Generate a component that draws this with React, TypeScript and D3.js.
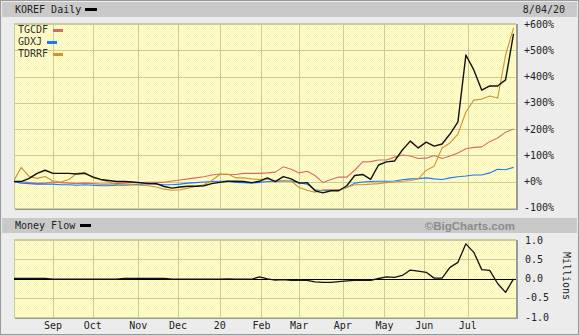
import React, { useEffect } from 'react';
import * as d3 from 'd3';

const W = 579;
const H = 335;
const SAMPLE_STEP = 4; // trading days between samples

const koref = [
  0, 0, 12, 31, 43, 31, 31, 31, 29, 31,
  18, 8, 4, 0, 0, -2, -4, -8, -8, -19,
  -25, -21, -18, -18, -16, -8, -3, 1, 1, 0,
  -4, 1, 14, 0, 19, 10, -6, -4, -35, -43,
  -35, -35, -16, 23, 27, 8, 63, 75, 78, 120,
  154, 128, 150, 135, 143, 181, 227, 482, 425, 348,
  364, 364, 387, 562,
];
const tgcdf = [
  0, 0, -4, -8, -6, -2, -4, -6, -8, -6,
  -8, -10, -10, -8, -6, -4, -4, -3, -3, -3,
  2, 6, 10, 14, 18, 25, 29, 27, 27, 31,
  31, 31, 33, 36, 56, 47, 33, 39, 23, -4,
  8, 17, 17, 43, 75, 76, 82, 82, 93, 101,
  97, 88, 89, 99, 88, 97, 109, 125, 130, 132,
  152, 166, 188, 200,
];
const gdxj = [
  0, -6, -8, -10, -10, -10, -12, -12, -14, -12,
  -14, -16, -16, -14, -14, -12, -10, -8, -10, -12,
  -12, -10, -6, -4, -2, 0, 1, 1, -3, -4,
  -6, -3, 0, 1, 2, 2, -4, -10, -31, -35,
  -32, -32, -23, -6, -2, 0, 1, 1, 2, 7,
  10, 11, 14, 10, 8, 14, 18, 21, 25, 25,
  33, 47, 45, 54,
];
const tdrrf = [
  0, 54, 19, 12, 19, 2, -2, 8, 31, 35,
  14, 8, -2, -12, -12, -12, -14, -16, -21, -29,
  -33, -31, -25, -18, -12, 4, 27, 29, 14, 14,
  10, 8, 10, 2, 4, 2, -23, -33, -41, -31,
  -31, -31, -23, -12, -12, -10, -8, -4, -2, 1,
  4, 10, 43, 58, 128, 147, 181, 265, 310, 314,
  326, 318, 482, 585,
];
const moneyFlow = [
  0, 0, 0, 0, 0, -0.02, -0.02, -0.02, -0.02, -0.02,
  -0.02, -0.02, -0.02, -0.02, 0, 0, 0, 0, 0, 0,
  -0.02, -0.02, -0.02, -0.02, -0.02, -0.02, -0.02, -0.01, -0.02, -0.02,
  -0.02, 0.04, -0.01, -0.04, -0.03, -0.05, -0.05, -0.05, -0.09, -0.1,
  -0.1, -0.08, -0.06, -0.05, -0.04, -0.05, 0, 0.04, 0.03, 0.08,
  0.22, 0.19, 0.16, 0.01, 0.01, 0.29, 0.42, 0.9, 0.68, 0.23,
  0.21, -0.13, -0.36, -0.01,
];

const monthLabels = ['Sep', 'Oct', 'Nov', 'Dec', '20', 'Feb', 'Mar', 'Apr', 'May', 'Jun', 'Jul'];
const monthIdx = [20, 40, 63, 83, 104, 125, 144, 166, 187, 207, 229];
const mainTicks = [600, 500, 400, 300, 200, 100, 0, -100];
const mfTicks = [1, 0.5, 0, -0.5, -1];

const compNames = ['TGCDF', 'GDXJ', 'TDRRF'];
const compColors = ['#d46a6a', '#1a78ff', '#cc9433'];

const MONO = '"DejaVu Sans Mono", "Liberation Mono", monospace';
const GRID = '#cccc99';
const TEXT = '#222';

export default function App() {
  useEffect(() => {
    document.body.style.margin = '0';
  }, []);

  const pL = 14, pR = 516;
  const mainTop = 23, mainBot = 208;
  const mfTop = 239, mfBot = 317;

  const x = d3.scaleLinear().domain([0, 253]).range([13.3, 13.3 + 1.985 * 253]);
  const yMain = d3.scaleLinear().domain([-100, 600]).range([207.8, 24]);
  const yMf = d3.scaleLinear().domain([-1, 1]).range([317, 240]);

  const lineMain = d3.line<number>().x((_, i) => x(i * SAMPLE_STEP)).y((d) => yMain(d));
  const lineMf = d3.line<number>().x((_, i) => x(i * SAMPLE_STEP)).y((d) => yMf(d));

  const compSeries = [tgcdf, gdxj, tdrrf];

  const fmtPct = (v: number) => (v >= 0 ? `+${v}%` : `${v}%`);

  const vGrid = (top: number, bot: number, key: string) =>
    monthIdx.map((m, i) => (
      <line key={key + i} x1={Math.round(x(m)) + 0.5} x2={Math.round(x(m)) + 0.5} y1={top} y2={bot} stroke={GRID} strokeWidth={1} />
    ));

  return (
    <svg width={W} height={H} style={{ position: 'absolute', left: 0, top: 0, display: 'block' }} shapeRendering="auto">
      <defs>
        <pattern id="dith" width="2" height="2" patternUnits="userSpaceOnUse">
          <rect width="2" height="2" fill="#ffffd6" />
          <rect x="0" y="0" width="1" height="1" fill="#faf6b2" />
          <rect x="1" y="1" width="1" height="1" fill="#faf6b2" />
        </pattern>
        <clipPath id="clipMain">
          <rect x={pL} y={mainTop} width={pR - pL} height={mainBot - mainTop} />
        </clipPath>
        <clipPath id="clipMf">
          <rect x={pL} y={mfTop} width={pR - pL} height={mfBot - mfTop} />
        </clipPath>
      </defs>

      {/* background and frame */}
      <rect x={0} y={0} width={W} height={H} fill="#ececec" />
      <rect x={0.5} y={0.5} width={W - 1} height={H - 1} fill="none" stroke="#9a9a9a" />

      {/* header bar */}
      <rect x={2} y={2} width={W - 4} height={15} fill="#c9c9c9" />
      <text x={15} y={13} fontFamily={MONO} fontSize={10} fill={TEXT}>KOREF Daily</text>
      <rect x={85} y={8} width={12} height={3} fill="#000" />
      <text x={565} y={13} fontFamily={MONO} fontSize={10} fill={TEXT} textAnchor="end">8/04/20</text>

      {/* main plot */}
      <rect x={pR} y={mainTop + 1} width={2} height={mainBot - mainTop + 1} fill="#9a9a9a" />
      <rect x={pL + 1} y={mainBot} width={pR - pL + 1} height={2} fill="#9a9a9a" />
      <rect x={pL} y={mainTop} width={pR - pL} height={mainBot - mainTop} fill="url(#dith)" />
      {mainTicks.map((t) => (
        <line key={'hg' + t} x1={pL} x2={pR} y1={Math.round(yMain(t)) + 0.5} y2={Math.round(yMain(t)) + 0.5} stroke={GRID} />
      ))}
      {vGrid(mainTop, mainBot, 'vm')}
      <line x1={pL + 0.5} x2={pL + 0.5} y1={mainTop} y2={mainBot} stroke={GRID} />
      <line x1={pL} x2={pR} y1={mainTop + 0.5} y2={mainTop + 0.5} stroke={GRID} />

      <g clipPath="url(#clipMain)" fill="none" strokeLinejoin="round">
        {compSeries.map((s, i) => (
          <path key={'c' + i} d={lineMain(s) || ''} stroke={compColors[i]} strokeWidth={1.1} />
        ))}
        <path d={lineMain(koref) || ''} stroke="#111" strokeWidth={1.4} />
      </g>

      {/* legend */}
      {compNames.map((n, i) => (
        <g key={'lg' + n}>
          <text x={18} y={33 + i * 12} fontFamily={MONO} fontSize={10} fill="#333">{n}</text>
          <rect x={18 + n.length * 6 + 5} y={29 + i * 12} width={10} height={3} fill={compColors[i]} />
        </g>
      ))}

      {/* main axis labels */}
      {mainTicks.map((t) => (
        <text key={'ml' + t} x={524} y={yMain(t)} dy="0.35em" fontFamily={MONO} fontSize={10} fill={TEXT}>{fmtPct(t)}</text>
      ))}

      {/* money flow header */}
      <rect x={2} y={218} width={W - 4} height={15} fill="#c9c9c9" />
      <text x={15} y={229} fontFamily={MONO} fontSize={10} fill={TEXT}>Money Flow</text>
      <rect x={80} y={224} width={11} height={3} fill="#000" />
      <text x={515} y={229.5} fontFamily='"Liberation Sans", Arial, sans-serif' fontWeight="bold" fontSize={11.5} fill="#8c8c8c" textAnchor="end">©BigCharts.com</text>

      {/* money flow plot */}
      <rect x={pR} y={mfTop + 1} width={2} height={mfBot - mfTop + 1} fill="#9a9a9a" />
      <rect x={pL + 1} y={mfBot} width={pR - pL + 1} height={2} fill="#9a9a9a" />
      <rect x={pL} y={mfTop} width={pR - pL} height={mfBot - mfTop} fill="url(#dith)" />
      {mfTicks.filter((t) => t !== 0).map((t) => (
        <line key={'mg' + t} x1={pL} x2={pR} y1={Math.round(yMf(t)) + 0.5} y2={Math.round(yMf(t)) + 0.5} stroke={GRID} />
      ))}
      {vGrid(mfTop, mfBot, 'vf')}
      <line x1={pL + 0.5} x2={pL + 0.5} y1={mfTop} y2={mfBot} stroke={GRID} />
      <line x1={pL} x2={pR} y1={mfTop + 0.5} y2={mfTop + 0.5} stroke={GRID} />
      <line x1={pL} x2={pR} y1={Math.round(yMf(0)) + 0.5} y2={Math.round(yMf(0)) + 0.5} stroke="#000" strokeWidth={1.2} />
      <g clipPath="url(#clipMf)">
        <path d={lineMf(moneyFlow) || ''} fill="none" stroke="#111" strokeWidth={1.3} strokeLinejoin="round" />
      </g>

      {mfTicks.map((t) => (
        <text key={'fl' + t} x={525} y={yMf(t)} dy="0.35em" fontFamily={MONO} fontSize={10} fill={TEXT}>{t.toFixed(1)}</text>
      ))}
      <text x={0} y={0} transform={`translate(563,276) rotate(90)`} fontFamily={MONO} fontSize={10} fill={TEXT} textAnchor="middle">Millions</text>

      {/* x axis labels */}
      {monthIdx.map((m, i) => (
        <text key={'xl' + i} x={x(m)} y={329} fontFamily={MONO} fontSize={10} fill={TEXT} textAnchor="middle">{monthLabels[i]}</text>
      ))}
    </svg>
  );
}
